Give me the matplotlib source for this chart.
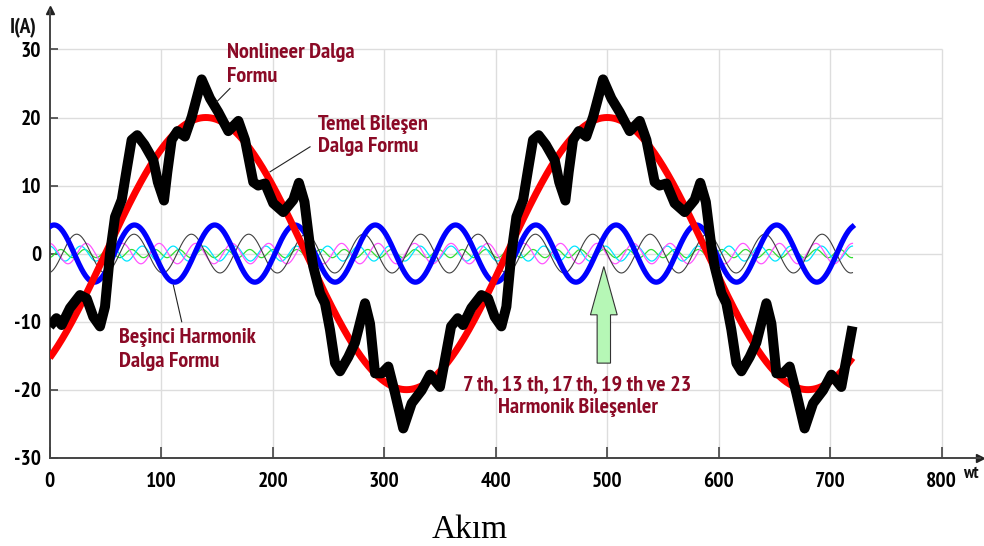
import numpy as np
import matplotlib
matplotlib.use("Agg")
import matplotlib.pyplot as plt
from matplotlib.patches import FancyArrow

# ---------------- data ----------------
# black nonlinear waveform, one period digitised (wt in degrees, I in A)
black_x = [0, 6, 10.7, 18.2, 27.2, 33.2, 39.1, 45.1, 49.6, 54.1, 58.6, 64.6, 69, 73.5,
           78.5, 85, 93, 97, 102.5, 105.5, 109.4, 114.5, 121.3, 127.4, 136.3, 143.8,
           151.2, 160.2, 169.2, 175.2, 182.6, 187, 193.1, 200.5, 209.5, 218.5, 223.5,
           228.5, 233.5, 236.4, 242.4, 246.9, 251.4, 255.9, 260.4, 267.8, 273.8, 282.8,
           287.3, 291.8, 297.8, 303.7, 309.7, 317.1, 324.7, 333.6, 341.1, 350, 354.5]
black_y = [-10.7, -9.5, -10.5, -8.0, -6.1, -6.6, -9.3, -10.7, -7.8, 0.0, 5.4, 7.9, 12.3, 16.7,
           17.4, 16.0, 13.7, 10.5, 7.8, 12.0, 16.7, 18.0, 17.2, 20.1, 25.6, 22.8,
           20.8, 18.0, 19.5, 16.7, 10.5, 10.0, 10.3, 7.4, 6.1, 7.9, 10.4,
           7.6, 1.0, -1.9, -5.8, -7.3, -11.2, -16.1, -17.3, -15.2, -13.1, -7.3,
           -10.3, -17.6, -17.6, -16.6, -20.5, -25.7, -22.0, -20.1, -17.8, -19.6, -15.6]
period = 360
wt_end = 720

# harmonic components: order, amplitude (A), wt of first peak (deg)
fund_amp, fund_peak = 20.0, 140.0
h_orders = [5, 7, 11, 13, 17]
h_amps = [4.2, 2.85, 1.5, 1.1, 0.6]
h_peaks = [4.0, 24.2, 0.0, 0.0, 10.0]
h_colors = ["#0000ff", "#404040", "#ff55ff", "#00e5ff", "#33dd33"]
h_widths = [3.8, 0.8, 0.9, 0.9, 0.9]

xticks = [0, 100, 200, 300, 400, 500, 600, 700, 800]
yticks = [-30, -20, -10, 0, 10, 20, 30]

# ---------------- fonts ----------------
plt.rcParams["font.family"] = ["PT Sans Narrow", "Roboto Condensed", "DejaVu Sans"]
fs_tick = 15.5
fs_ann = 16
dark_red = "#8b0a26"

W, H = 984, 546
fig = plt.figure(figsize=(W / 100, H / 100), dpi=100)
ax = fig.add_axes([49.7 / W, 1 - 457.7 / H, 930.3 / W, 447.7 / H])
ax.set_xlim(0, 834.4)
ax.set_ylim(-30, 35.8)

# grid
ax.vlines(xticks[1:], -30, 30, color="#dddddd", lw=1.0, zorder=0)
ax.hlines(yticks[1:], 0, 800, color="#dddddd", lw=1.0, zorder=0)

# curves
wt = np.linspace(0, wt_end, 2000)
for o, a, p, c, lw in zip(h_orders[::-1], h_amps[::-1], h_peaks[::-1], h_colors[::-1], h_widths[::-1]):
    z = 3 if o == 5 else 2
    ax.plot(wt, a * np.cos(np.radians(o * (wt - p))), color=c, lw=lw, zorder=z)
ax.plot(wt, fund_amp * np.cos(np.radians(wt - fund_peak)), color="#ff0000", lw=5.0,
        zorder=4, solid_capstyle="butt")
bx = np.concatenate([black_x, np.array(black_x) + period, [wt_end]])
by = np.concatenate([black_y, black_y, [black_y[0]]])
ax.plot(bx, by, color="black", lw=7.2, zorder=5, solid_joinstyle="round",
        solid_capstyle="butt")

# axes styling
for s in ["top", "right"]:
    ax.spines[s].set_visible(False)
for s in ["left", "bottom"]:
    ax.spines[s].set_color("#444444")
    ax.spines[s].set_linewidth(1.4)
ax.plot(1, -30, ">", color="#222222", ms=6, transform=ax.get_yaxis_transform(), clip_on=False)
ax.plot(0, 1, "^", color="#222222", ms=6, transform=ax.get_xaxis_transform(), clip_on=False)

ax.set_xticks(xticks)
ax.set_yticks(yticks)
ax.set_xticklabels([str(v) for v in xticks], fontweight="bold", fontsize=fs_tick)
ax.set_yticklabels([str(v) for v in yticks], fontweight="bold", fontsize=fs_tick)
ax.tick_params(axis="x", direction="in", length=8, width=1.2, color="#444444", pad=10)
ax.tick_params(axis="y", direction="in", length=6, width=1.2, color="#444444", pad=6)

# annotations
tk = dict(color=dark_red, fontweight="bold", fontsize=fs_ann, va="baseline", zorder=6)
ax.text(158.7, 28.72, "Nonlineer Dalga", ha="left", **tk)
ax.text(158.7, 25.24, "Formu", ha="left", **tk)
ax.text(240.9, 18.14, "Temel Bileşen", ha="left", **tk)
ax.text(240.9, 14.96, "Dalga Formu", ha="left", **tk)
ax.text(62.4, -13.15, "Beşinci Harmonik", ha="left", **tk)
ax.text(62.4, -16.67, "Dalga Formu", ha="left", **tk)
ax.text(473.0, -20.05, "7 th, 13 th, 17 th, 19 th ve 23", ha="center", **tk)
ax.text(473.8, -23.48, "Harmonik Bileşenler", ha="center", **tk)

lk = dict(color="#222222", lw=0.8, zorder=6)
ax.plot([161.7, 149.8], [24.27, 22.3], **lk)
ax.plot([233.5, 197.6], [15.69, 12.02], **lk)
ax.plot([110.9, 118.4], [-4.63, -10.02], **lk)

ax.add_patch(FancyArrow(497, -16.1, 0, 14.2, width=12, head_width=24, head_length=7.1,
                        length_includes_head=True, facecolor="#b6f7b6",
                        edgecolor="#333333", lw=0.8, zorder=6))

fig.text(10 / W, 1 - 33 / H, "I(A)", fontweight="bold", fontsize=fs_tick, color="#111111")
fig.text(963 / W, 1 - 478 / H, "wt", fontweight="bold", fontsize=12.5, color="#111111")
fig.text(470 / W, 1 - 538 / H, "Akım", family=["Liberation Serif", "DejaVu Serif"],
         fontsize=24, ha="center", va="baseline")

fig.savefig("out.png", dpi=100)
